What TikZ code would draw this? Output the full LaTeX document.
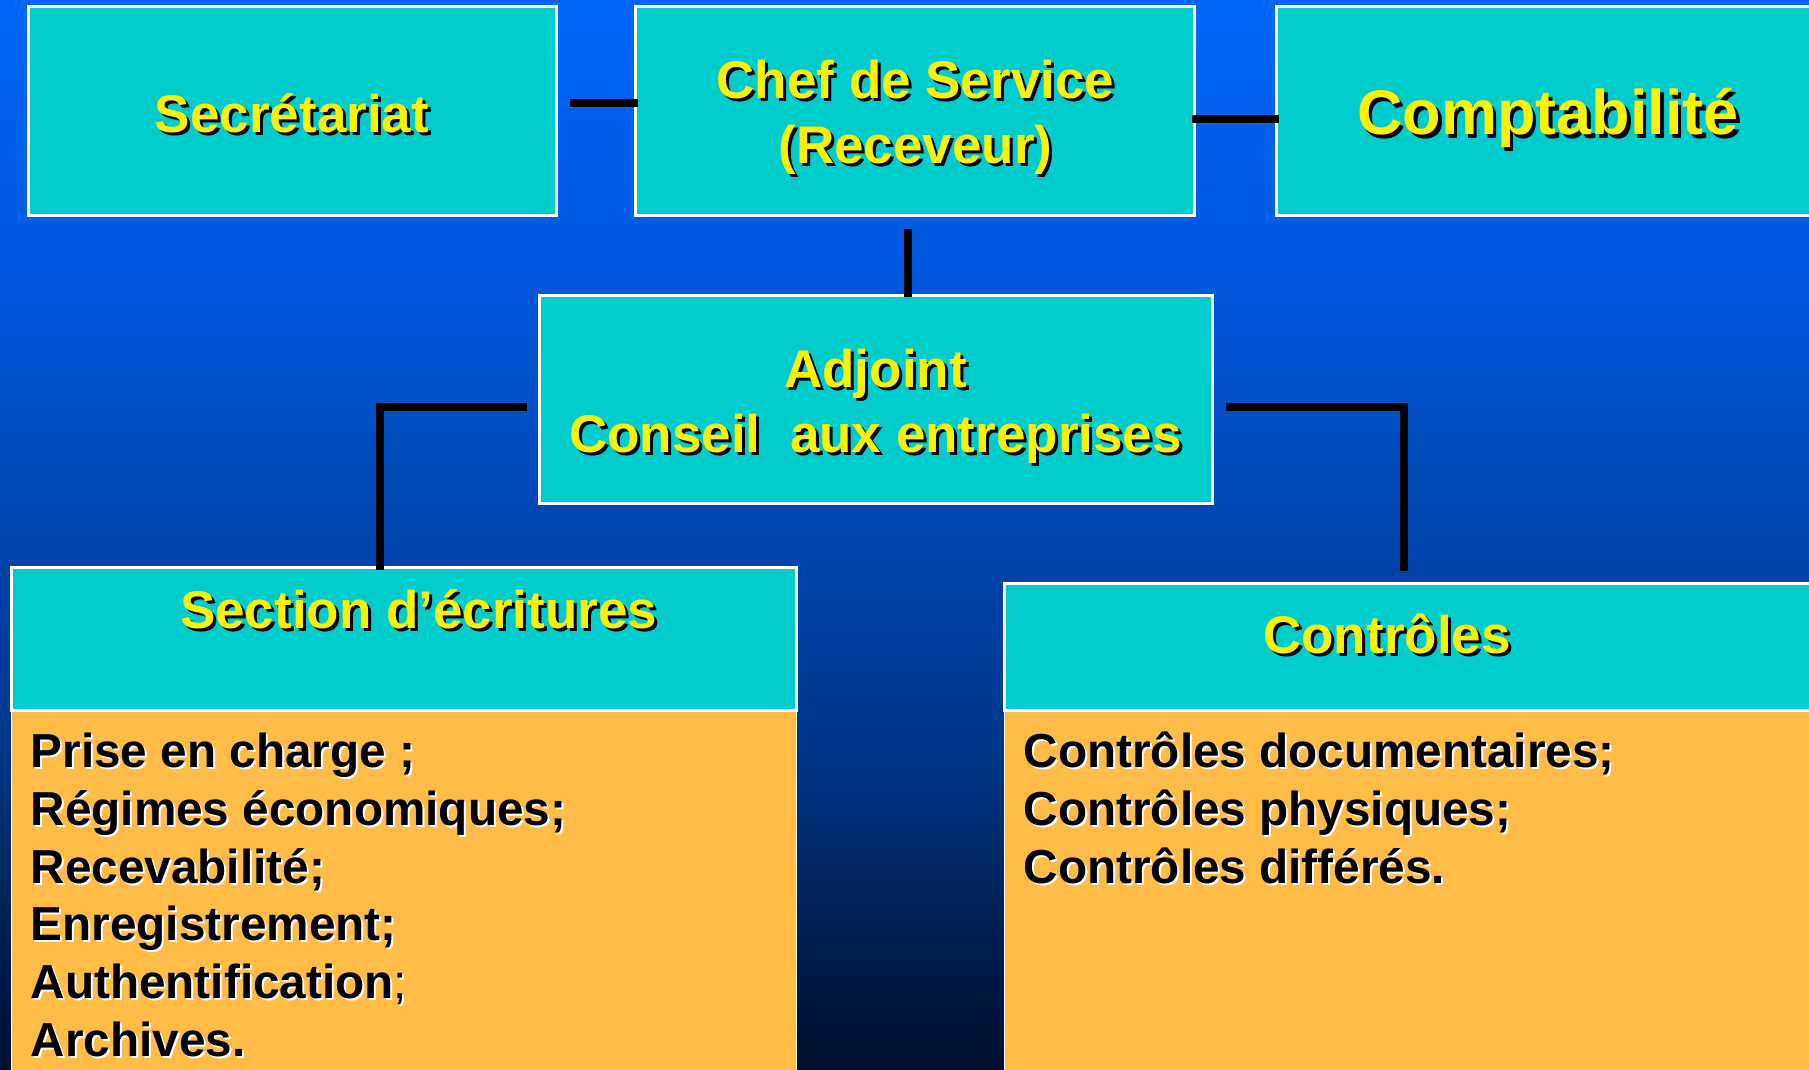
\documentclass[tikz,border=0pt]{standalone}
\usepackage{fontspec}
\setmainfont{Liberation Sans}
\usetikzlibrary{positioning}

\definecolor{boxteal}{RGB}{0,204,204}
\definecolor{listorange}{RGB}{255,188,70}
\definecolor{bgA}{RGB}{0,15,45}
\definecolor{bgB}{RGB}{0,35,90}
\definecolor{bgC}{RGB}{0,55,140}
\definecolor{bgD}{RGB}{0,70,175}
\definecolor{bgE}{RGB}{0,90,225}
\definecolor{bgF}{RGB}{0,102,250}
\pgfdeclareverticalshading{slidebg}{100bp}{color(0bp)=(bgA); color(25bp)=(bgA); color(32.94bp)=(bgB); color(40.42bp)=(bgC); color(49.77bp)=(bgD); color(63.32bp)=(bgE); color(75bp)=(bgF); color(100bp)=(bgF)}
\newcommand{\txtshadow}[3][3pt]{\leavevmode\rlap{\kern#1\raisebox{-#1}{\color{#2}#3}}#3}

\begin{document}
\begin{tikzpicture}[x=1pt,y=-1pt]
	\tikzset{box/.style={draw=white, line width=3pt, fill=boxteal, inner sep=0pt, minimum height=208pt},
		head/.style={draw=white, line width=3pt, fill=boxteal, inner sep=0pt},
		body/.style={draw=white, line width=1pt, fill=listorange, inner sep=0pt, minimum height=370pt},
		title/.style={anchor=base, inner sep=0pt, text=yellow, align=center, font=\bfseries\fontsize{53}{65}\selectfont},
		list/.style={anchor=base west, inner sep=0pt, align=left, font=\bfseries\fontsize{47.7}{57.8}\selectfont},
		link/.style={draw=black, line width=8pt, line cap=butt, line join=miter}}

	\useasboundingbox (0,0) rectangle (1809,1070);
	\clip (0,0) rectangle (1809,1070);
	\shade[shading=slidebg] (0,0) rectangle (1809,1070);

	\node[box, minimum width=528pt] (secr) at (292,111) {};
	\node[box, minimum width=559pt] (chef) at (915.4,111) {};
	\node[box, minimum width=544pt] (compta) at (1548,111) {};
	\node[box, minimum width=673pt] (adj) at (875.5,399) {};

	\node[title] (secrtext) at ([yshift=-21pt]secr.center) {\txtshadow{black}{Secrétariat}};
	\node[title] (cheftext) at ([yshift=-52pt]chef.center) {\txtshadow{black}{Chef de Service}\\\txtshadow{black}{(Receveur)}};
	\node[title, font=\bfseries\fontsize{63}{75}\selectfont] (comptatext) at ([yshift=-24pt]compta.center) {\txtshadow[3.5pt]{black}{Comptabilité}};
	\node[title] (adjtext) at ([yshift=-53pt]adj.center) {\txtshadow{black}{Adjoint}\\\txtshadow{black}{Conseil~~aux entreprises}};

	\node[body, minimum width=784.5pt] (sectbd) at (403.75,895) {};
	\node[head, minimum width=784.5pt, minimum height=143pt] (secthd) at (403.75,638.5) {};
	\node[body, minimum width=811pt] (ctrlbd) at (1409.5,895) {};
	\node[head, minimum width=811pt, minimum height=127pt] (ctrlhd) at (1409.5,646.5) {};

	\node[title] (secttitle) at ([xshift=15pt,yshift=-63pt]secthd.north) {\txtshadow{black}{Section d’écritures}};
	\node[title] (ctrltitle) at ([xshift=-22.5pt,yshift=-72pt]ctrlhd.north) {\txtshadow{black}{Contrôles}};

	\node[list] (sectlist) at ([xshift=19.5pt,yshift=-347pt]sectbd.north west) {\txtshadow[2pt]{white}{Prise en charge ;}\\
		\txtshadow[2pt]{white}{Régimes économiques;}\\
		\txtshadow[2pt]{white}{Recevabilité;}\\
		\txtshadow[2pt]{white}{Enregistrement;}\\
		\txtshadow[2pt]{white}{Authentification}{\mdseries\txtshadow[2pt]{white}{;}}\\
		\txtshadow[2pt]{white}{Archives.}};
	\node[list] (ctrllist) at ([xshift=20pt,yshift=-173.6pt]ctrlbd.north west) {\txtshadow[2pt]{white}{Contrôles documentaires;}\\
		\txtshadow[2pt]{white}{Contrôles physiques;}\\
		\txtshadow[2pt]{white}{Contrôles différés.}};

	\draw[link] ([xshift=12pt,yshift=8pt]secr.east) -- ([xshift=4pt,yshift=8pt]chef.west);
	\draw[link] ([xshift=-4pt,yshift=-8pt]chef.east) -- ([xshift=4pt,yshift=-8pt]compta.west);
	\draw[link] ([xshift=-7.5pt,yshift=-12pt]chef.south) -- ([xshift=-7.5pt,yshift=-3pt]chef.south |- adj.north);
	\draw[link] ([xshift=-11pt,yshift=-8pt]adj.west) -| ([xshift=-24pt,yshift=-4pt]secthd.north);
	\draw[link] ([xshift=12pt,yshift=-8pt]adj.east) -| ([xshift=-5.5pt,yshift=11pt]ctrlhd.north);
\end{tikzpicture}
\end{document}
